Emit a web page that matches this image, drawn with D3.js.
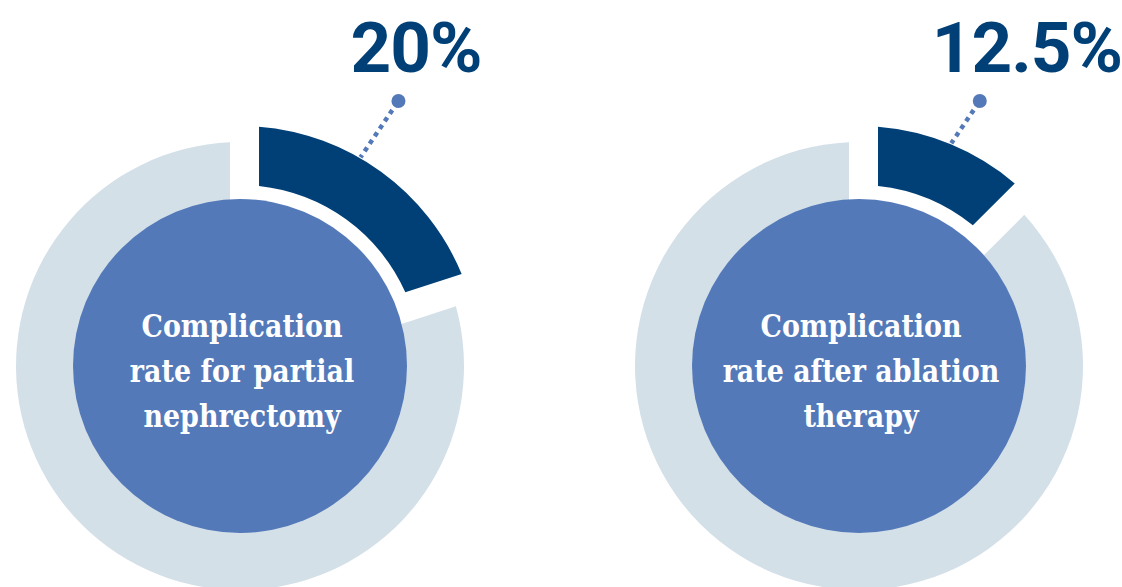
<!DOCTYPE html>
<html>
<head>
<meta charset="utf-8">
<script src="https://cdn.jsdelivr.net/npm/d3@7"></script>
<style>
  html, body { margin: 0; padding: 0; background: #fff; }
  svg { display: block; }
</style>
</head>
<body>
<svg id="chart"></svg>
<script>
// data
var categories = ["Partial nephrectomy", "Ablation therapy"]
var complicationRates = [20, 12.5]
var rateLabels = ["20%", "12.5%"]
var centerLabels = [
    ["Complication", "rate for partial", "nephrectomy"],
    ["Complication", "rate after ablation", "therapy"]
]

var width = 1122, height = 587

var colors = {
    dark: "#004077",
    mid: "#5479b9",
    light: "#d4e0e8"
}

var svg = d3.select("#chart")
    .attr("width", width)
    .attr("height", height)

var x = d3.scalePoint()
    .domain(categories)
    .range([240, 859])

var cy = 366
var ringOuter = 224, innerDisc = 167
var sliceInner = 181, sliceOuter = 240

// parallel gap on each side of a slice edge
function padded(gap) {
    var rp = 100
    return { padRadius: rp, padAngle: 2 * Math.asin(gap / rp) }
}

var pie = d3.pie().sort(null).value(function(d) { return d })

var restArc = d3.arc()
    .innerRadius(150)
    .outerRadius(ringOuter)
    .padRadius(padded(10).padRadius)
    .padAngle(padded(10).padAngle)

var rateArc = d3.arc()
    .innerRadius(sliceInner)
    .outerRadius(sliceOuter)
    .padRadius(padded(19).padRadius)
    .padAngle(padded(19).padAngle)

var tilt = 34 * Math.PI / 180   // leader direction
var dotLevel = 265              // dot height above centre
var squeeze = 0.935             // narrow the slab face a bit more

categories.forEach(function(cat, i) {
    var g = svg.append("g")
        .attr("transform", "translate(" + x(cat) + "," + cy + ")")

    var arcs = pie([complicationRates[i], 100 - complicationRates[i]])

    g.append("path")
        .attr("d", restArc(arcs[1]))
        .attr("fill", colors.light)

    g.append("path")
        .attr("d", rateArc(arcs[0]))
        .attr("fill", colors.dark)

    g.append("circle")
        .attr("r", innerDisc)
        .attr("fill", colors.mid)

    // leader from the slice up to the dot
    var mid = Math.min((arcs[0].startAngle + arcs[0].endAngle) / 2, Math.PI / 6)
    var ax = Math.sin(mid) * (sliceOuter + 1)
    var ay = -Math.cos(mid) * (sliceOuter + 1)
    var dotX = ax + Math.tan(tilt) * (dotLevel + ay)
    var dotY = -dotLevel

    g.append("line")
        .attr("x1", dotX)
        .attr("y1", dotY)
        .attr("x2", ax)
        .attr("y2", ay)
        .attr("stroke", colors.mid)
        .attr("stroke-width", 4.5)
        .attr("stroke-dasharray", "4.5 4.5")
        .attr("stroke-dashoffset", -11)

    g.append("circle")
        .attr("cx", dotX)
        .attr("cy", dotY)
        .attr("r", 7)
        .attr("fill", colors.mid)

    g.append("text")
        .attr("x", dotX - 48)
        .attr("y", dotY - 29)
        .attr("fill", colors.dark)
        .style("font-family", "Roboto, sans-serif")
        .style("font-weight", 700)
        .style("font-size", "71px")
        .style("letter-spacing", "-1px")
        .text(rateLabels[i])

    var lines = centerLabels[i]
    var lineH = 45
    var t = g.append("text")
        .attr("transform", "scale(" + squeeze + ",1)")
        .attr("text-anchor", "middle")
        .attr("fill", "#fff")
        .style("font-family", "'DejaVu Serif Condensed', 'DejaVu Serif', serif")
        .style("font-stretch", "condensed")
        .style("font-weight", 700)
        .style("font-size", "32px")
    t.selectAll("tspan")
        .data(lines)
        .enter()
        .append("tspan")
            .attr("x", 2 / squeeze)
            .attr("y", function(d, j) { return 16 + (j - (lines.length - 1) / 2) * lineH })
            .text(function(d) { return d })
})
</script>
</body>
</html>
